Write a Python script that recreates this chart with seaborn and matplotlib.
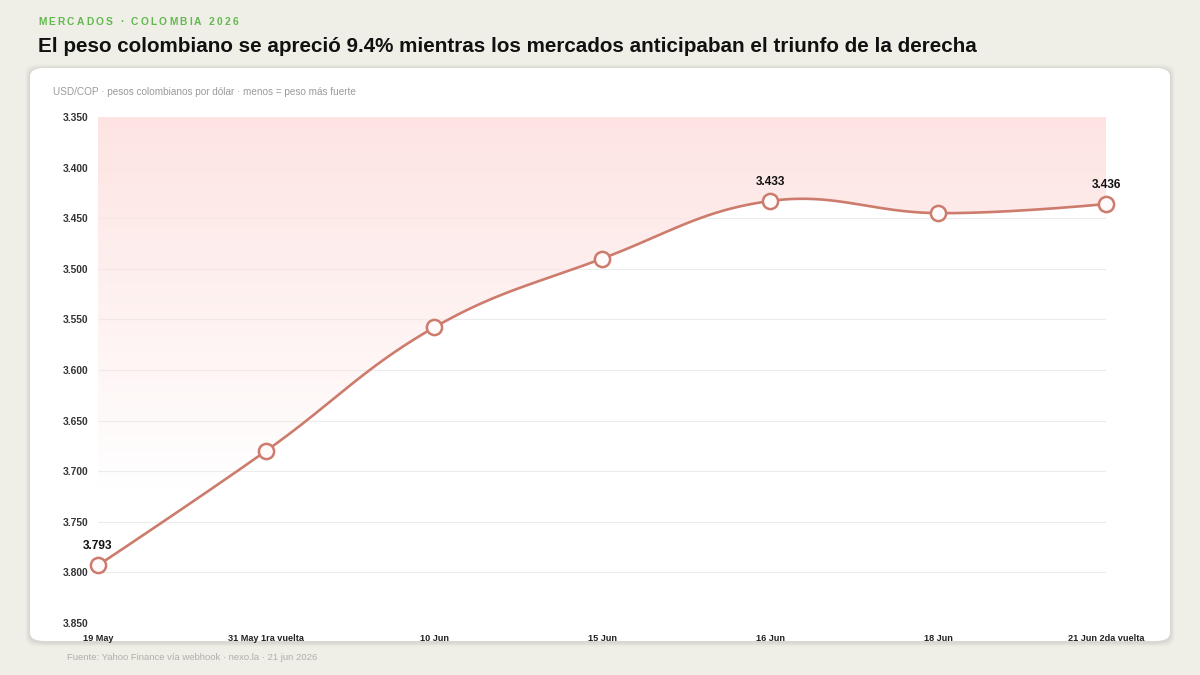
import numpy as np
import pandas as pd
import matplotlib
matplotlib.use("Agg")
import matplotlib.pyplot as plt
from matplotlib.patches import FancyBboxPatch, Polygon
from matplotlib.ticker import FuncFormatter
import seaborn as sns

# ---------------- data ----------------
categories = ["19 May", "31 May 1ra vuelta", "10 Jun", "15 Jun", "16 Jun", "18 Jun", "21 Jun 2da vuelta"]
usdcop = [3793, 3680, 3558, 3490, 3433, 3445, 3436]
labeled_idx = [0, 4, 6]
y_ticks = [3350, 3400, 3450, 3500, 3550, 3600, 3650, 3700, 3750, 3800, 3850]

kicker = "MERCADOS · COLOMBIA 2026"
title = "El peso colombiano se apreció 9.4% mientras los mercados anticipaban el triunfo de la derecha"
note = "USD/COP · pesos colombianos por dólar · menos = peso más fuerte"
source = "Fuente: Yahoo Finance vía webhook · nexo.la · 21 jun 2026"

# ---------------- style ----------------
sns.set_theme(style="white")
plt.rcParams["font.family"] = ["Liberation Sans", "DejaVu Sans"]

BG = "#efefe8"
LINE = "#cd7b6c"
FILL = (0.993, 0.895, 0.89)

W, H = 1200, 675
fig = plt.figure(figsize=(12, 6.75), dpi=100, facecolor=BG)

def fx(px):
    return px / W

def fy(py):
    return 1 - py / H

# card with soft shadow
for i, a in enumerate([0.035, 0.03, 0.025]):
    d = (i + 1) * 1.5
    sh = FancyBboxPatch((fx(30 - d), fy(641 + d + 1)), fx(1140 + 2 * d), (641 - 68 + 2 * d) / H,
                        boxstyle="round,pad=0,rounding_size=0.012", transform=fig.transFigure,
                        facecolor="black", edgecolor="none", alpha=a, zorder=-3)
    fig.patches.append(sh)
card = FancyBboxPatch((fx(30), fy(641)), fx(1140), (641 - 68) / H,
                      boxstyle="round,pad=0,rounding_size=0.012", transform=fig.transFigure,
                      facecolor="white", edgecolor="none", zorder=-2)
fig.patches.append(card)

# axes
ax = fig.add_axes([fx(98), fy(623), fx(1008), 506 / H])
ax.set_facecolor("none")
ax.set_zorder(1)
x = np.arange(len(categories))
ax.set_xlim(0, len(categories) - 1)
ax.set_ylim(y_ticks[-1], y_ticks[0])

# smooth curve (Chart.js-style tension spline in pixel space)
pts = ax.transData.transform(np.column_stack([x, usdcop]))
n = len(pts)
tension = 0.4
cp_prev = pts.copy()
cp_next = pts.copy()
for i in range(1, n - 1):
    p0, p1, p2 = pts[i - 1], pts[i], pts[i + 1]
    d01 = np.hypot(*(p1 - p0))
    d12 = np.hypot(*(p2 - p1))
    s01 = d01 / (d01 + d12)
    s12 = d12 / (d01 + d12)
    cp_prev[i] = p1 - tension * s01 * (p2 - p0)
    cp_next[i] = p1 + tension * s12 * (p2 - p0)
curve = []
tt = np.linspace(0, 1, 60)[:, None]
for i in range(n - 1):
    a, b, c, d = pts[i], cp_next[i], cp_prev[i + 1], pts[i + 1]
    seg = (1 - tt) ** 3 * a + 3 * (1 - tt) ** 2 * tt * b + 3 * (1 - tt) * tt ** 2 * c + tt ** 3 * d
    curve.append(seg if i == 0 else seg[1:])
curve = np.vstack(curve)
curve_data = ax.transData.inverted().transform(curve)
smooth = pd.DataFrame({"x": curve_data[:, 0], "y": curve_data[:, 1], "order": np.arange(len(curve_data))})

# gradient fill between the curve and the top of the axis
grad_h = 256
alpha = np.clip(1 - (np.linspace(y_ticks[0], y_ticks[-1], grad_h) - y_ticks[0]) / (3720 - y_ticks[0]), 0, 1)
img = np.zeros((grad_h, 2, 4))
img[..., 0], img[..., 1], img[..., 2] = FILL
img[..., 3] = alpha[:, None]
im = ax.imshow(img, extent=[0, n - 1, y_ticks[-1], y_ticks[0]], aspect="auto", zorder=1, interpolation="bilinear")
poly_xy = np.vstack([curve_data, [[n - 1, y_ticks[0]], [0, y_ticks[0]]]])
clip = Polygon(poly_xy, closed=True, transform=ax.transData, facecolor="none", edgecolor="none")
ax.add_patch(clip)
im.set_clip_path(clip)
ax.set_xlim(0, n - 1)
ax.set_ylim(y_ticks[-1], y_ticks[0])

sns.lineplot(data=smooth, x="x", y="y", sort=False, ax=ax, color=LINE, linewidth=1.9, zorder=3)
df = pd.DataFrame({"x": x, "y": usdcop})
sns.scatterplot(data=df, x="x", y="y", ax=ax, s=120, facecolor="#fffafa", edgecolor=LINE, linewidth=1.8, zorder=4, clip_on=False)

for i in labeled_idx:
    ax.annotate(f"{usdcop[i] / 1000:.3f}", (x[i], usdcop[i]), xytext=(0, 9.5), textcoords="offset points",
                ha="center", va="bottom", fontsize=8.6, fontweight="bold", color="#111111", zorder=5)

# axes styling
ax.set_yticks(y_ticks)
ax.yaxis.set_major_formatter(FuncFormatter(lambda v, p: f"{v / 1000:.3f}"))
ax.set_xticks(x)
ax.set_xticklabels(categories)
ax.tick_params(axis="y", length=0, pad=7, labelsize=7.4, labelcolor="#333333")
ax.tick_params(axis="x", length=0, pad=8, labelsize=6.6, labelcolor="#222222")
for lab in ax.get_xticklabels() + ax.get_yticklabels():
    lab.set_fontweight("bold")
ax.set_xlabel("")
ax.set_ylabel("")
ax.grid(axis="y", color="#ececec", linewidth=0.8, zorder=0)
ax.grid(axis="x", visible=False)
for s in ax.spines.values():
    s.set_visible(False)
if ax.get_legend():
    ax.get_legend().remove()

# texts
renderer = fig.canvas.get_renderer()
cx = fx(38)
for ch in kicker:
    t = fig.text(cx, fy(22), ch, fontsize=7.4, fontweight="bold", color="#62b84f", va="center", ha="left")
    w = t.get_window_extent(renderer=renderer).width if ch != " " else 3
    cx += (w + 2.2) / W

fig.text(fx(38), fy(46), title, fontsize=14.9, fontweight="bold", color="#111111", va="center", ha="left")
fig.text(fx(53), fy(92), note, fontsize=7.2, color="#9a9a9a", va="center", ha="left")
fig.text(fx(67), fy(657), source, fontsize=6.8, color="#b0b0aa", va="center", ha="left")

fig.savefig("out.png", dpi=100, facecolor=BG)
